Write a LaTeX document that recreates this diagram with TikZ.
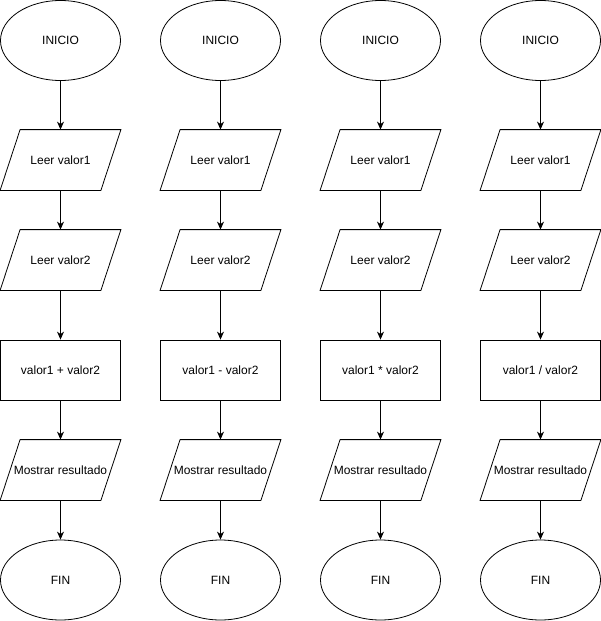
\documentclass[tikz,border=0pt]{standalone}
\usepackage{fontspec}
\setmainfont{Liberation Sans}
\usetikzlibrary{arrows.meta,calc,shapes.geometric}
\tikzset{
  base/.style={font=\fontsize{12}{14}\selectfont, inner sep=1pt, line width=0.8pt},
  term/.style={base, draw, ellipse, minimum width=120pt, minimum height=80pt},
  proc/.style={base, draw, rectangle, minimum width=120pt, minimum height=60pt},
  iobox/.style={base, rectangle, minimum width=120pt, minimum height=60pt},
  conn/.style={line width=0.9pt, -{Stealth[length=8pt,width=7pt,inset=2.5pt]}},
}
\begin{document}
\begin{tikzpicture}[x=1pt,y=-1pt]
\useasboundingbox (0,0) rectangle (601,621);
\foreach \i/\op in {0/{valor1 + valor2},1/{valor1 - valor2},2/{valor1 * valor2},3/{valor1 / valor2}}{
  \pgfmathsetmacro{\cx}{60.5+160*\i}
  \node[term] (ini\i) at (\cx,40.5) {INICIO};
  \node[iobox] (r1\i) at (\cx,160) {Leer valor1};
  \node[iobox] (r2\i) at (\cx,260) {Leer valor2};
  \node[proc] (op\i) at (\cx,370) {\op};
  \node[iobox] (out\i) at (\cx,470) {Mostrar resultado};
  \node[term] (fin\i) at (\cx,580) {FIN};
  \foreach \n in {r1\i,r2\i,out\i}{
    \draw[line width=0.8pt] ($(\n.north west)+(20,0)$) -- (\n.north east) -- ($(\n.south east)+(-20,0)$) -- (\n.south west) -- cycle;
  }
  \draw[conn] (ini\i) -- (r1\i);
  \draw[conn] (r1\i) -- (r2\i);
  \draw[conn] (r2\i) -- (op\i);
  \draw[conn] (op\i) -- (out\i);
  \draw[conn] (out\i) -- (fin\i);
}
\end{tikzpicture}
\end{document}
